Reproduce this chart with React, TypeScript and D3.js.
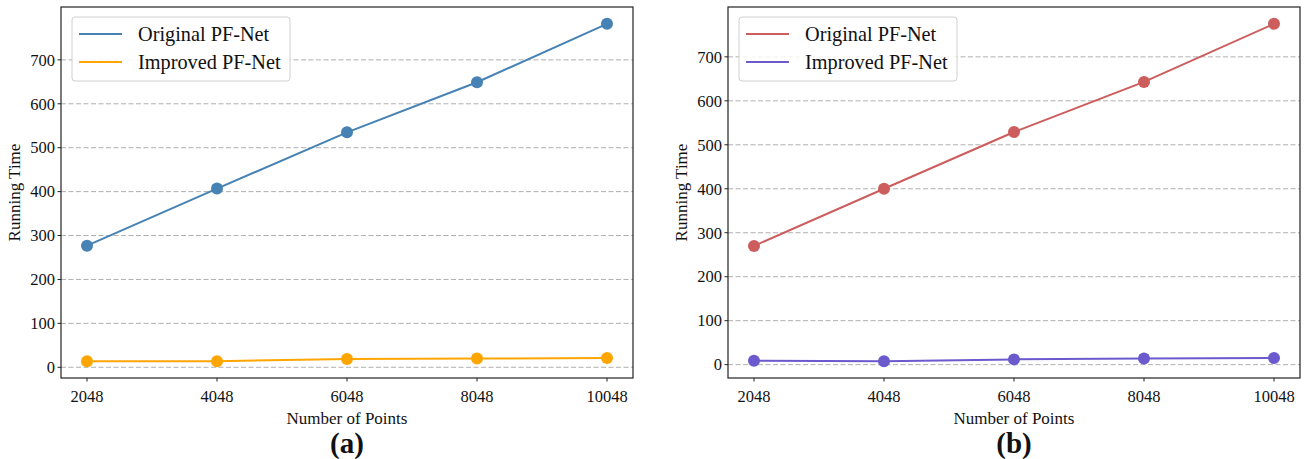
import * as d3 from 'd3';
import React from 'react';

const points = [2048, 4048, 6048, 8048, 10048];
const yTicks = [0, 100, 200, 300, 400, 500, 600, 700];
const seriesNames = ['Original PF-Net', 'Improved PF-Net'];

// panel (a)
const originalA = [277, 407, 535, 649, 782];
const improvedA = [14, 14, 19, 20, 21];
// panel (b)
const originalB = [270, 400, 529, 643, 775];
const improvedB = [9, 8, 12, 14, 15];

const W = 1307;
const H = 459;
const font = '"Times New Roman", "Liberation Serif", serif';

type Panel = {
  label: string;
  left: number;
  right: number;
  series: number[][];
  colors: string[];
};

const panels: Panel[] = [
  { label: '(a)', left: 61, right: 633, series: [originalA, improvedA], colors: ['#4682b4', '#ffa500'] },
  { label: '(b)', left: 728, right: 1300, series: [originalB, improvedB], colors: ['#cd5c5c', '#6a5acd'] },
];

const top = 7;
const bottom = 378;

function ChartPanel({ p }: { p: Panel }) {
  const all = p.series.flat();
  const [lo, hi] = d3.extent(all) as [number, number];
  const pad = (hi - lo) * 0.05;
  const xPad = (points[points.length - 1] - points[0]) * 0.05;

  const x = d3.scaleLinear()
    .domain([points[0] - xPad, points[points.length - 1] + xPad])
    .range([p.left, p.right]);
  const y = d3.scaleLinear().domain([lo - pad, hi + pad]).range([bottom, top]);

  const line = d3.line<number>()
    .x((_, i) => x(points[i]))
    .y(d => y(d));

  const midX = (p.left + p.right) / 2;
  const midY = (top + bottom) / 2;
  const lx = p.left + 11;

  return (
    <g>
      {/* grid */}
      {yTicks.map(t => (
        <line key={'g' + t} x1={p.left} x2={p.right} y1={y(t)} y2={y(t)}
          stroke="#b0b0b0" strokeWidth={1} strokeDasharray="5,2.5" />
      ))}

      {/* lines + markers */}
      {p.series.map((s, si) => (
        <g key={'s' + si}>
          <path d={line(s) ?? ''} fill="none" stroke={p.colors[si]} strokeWidth={2} />
          {s.map((v, i) => (
            <circle key={i} cx={x(points[i])} cy={y(v)} r={6} fill={p.colors[si]} />
          ))}
        </g>
      ))}

      {/* frame */}
      <rect x={p.left} y={top} width={p.right - p.left} height={bottom - top}
        fill="none" stroke="#222" strokeWidth={1.2} />

      {/* y axis */}
      {yTicks.map(t => (
        <g key={'y' + t} transform={`translate(${p.left},${y(t)})`}>
          <line x1={-3.5} x2={0} stroke="#222" strokeWidth={1} />
          <text x={-6} dy="0.35em" textAnchor="end" fontSize={16.5} fontFamily={font} fill="#111">{t}</text>
        </g>
      ))}

      {/* x axis */}
      {points.map(t => (
        <g key={'x' + t} transform={`translate(${x(t)},${bottom})`}>
          <line y1={0} y2={3.5} stroke="#222" strokeWidth={1} />
          <text y={24} textAnchor="middle" fontSize={16.5} fontFamily={font} fill="#111">{t}</text>
        </g>
      ))}

      <text x={midX} y={424} textAnchor="middle" fontSize={17} fontFamily={font} fill="#111">Number of Points</text>
      <text transform={`translate(${p.left - 41},${midY}) rotate(-90)`} textAnchor="middle"
        fontSize={17} fontFamily={font} fill="#111">Running Time</text>
      <text x={midX} y={453} textAnchor="middle" fontSize={29} fontWeight="bold" fontFamily={font} fill="#111">{p.label}</text>

      {/* legend */}
      <rect x={lx} y={17} width={218} height={64} rx={3} fill="#fff" fillOpacity={0.85}
        stroke="#d0d0d0" strokeWidth={1} />
      {seriesNames.map((n, i) => (
        <g key={n} transform={`translate(${lx + 7},${34 + i * 28})`}>
          <line x1={0} x2={43} stroke={p.colors[i]} strokeWidth={2} />
          <text x={59} dy="0.35em" fontSize={20.3} fontFamily={font} fill="#111">{n}</text>
        </g>
      ))}
    </g>
  );
}

export default function App() {
  return (
    <svg width={W} height={H} style={{ position: 'absolute', left: 0, top: 0, background: '#fff' }}>
      {panels.map(p => <ChartPanel key={p.label} p={p} />)}
    </svg>
  );
}
